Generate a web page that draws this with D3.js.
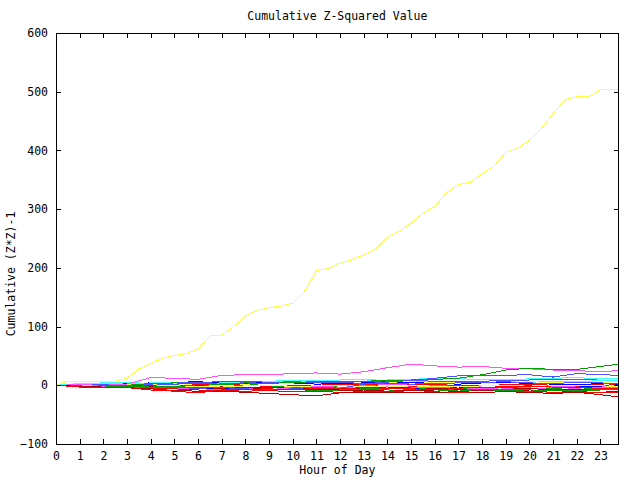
<!DOCTYPE html>
<html>
<head>
<meta charset="utf-8">
<script src="https://cdn.jsdelivr.net/npm/d3@7"></script>
<style>
  html, body { margin: 0; padding: 0; background: #fff; }
  svg { display: block; }
  text { font-family: "DejaVu Sans Mono", "Liberation Mono", monospace; font-size: 11.5px; fill: #000; }
</style>
</head>
<body>
<svg id="chart" width="640" height="480"></svg>
<script>
// ---------- DATA ----------
const titleText = "Cumulative Z-Squared Value";
const xLabel = "Hour of Day";
const yLabel = "Cumulative (Z*Z)-1";
const xTicks = [0,1,2,3,4,5,6,7,8,9,10,11,12,13,14,15,16,17,18,19,20,21,22,23];
const yTicks = [-100, 0, 100, 200, 300, 400, 500, 600];
const xMax = 23.77;

// hourly sample grid used by most series
const hours = [0,1,2,3,4,5,6,7,8,9,10,11,12,13,14,15,16,17,18,19,20,21,22,23,23.77];
// half-hourly grid for the large yellow series
const yellowHours = [0,0.5,1,1.5,2,2.5,3,3.5,4,4.5,5,5.5,6,6.5,7,7.5,8,8.5,9,9.5,10,10.5,11,11.5,12,12.5,13,13.5,14,14.5,15,15.5,16,16.5,17,17.5,18,18.5,19,19.5,20,20.5,21,21.5,22,22.5,23,23.5,23.77];
const yellowBig = [0,7,6,6,6,7,12,28,37,46,51,54,62,84,85,100,118,128,132,135,140,160,195,199,208,214,222,232,252,262,276,293,305,328,342,346,360,373,397,404,417,437,463,486,492,491,504,504,504];

// hourly series (cluster near zero)
const c01 = [0,2,1,0,-1,-3,-2,-4,-5,-3,-4,-6,-5,-3,-4,-2,-3,-5,-4,-2,-1,-3,-2,0,1];
const c02 = [0,-1,-2,-1,1,2,3,2,1,0,-2,-3,-1,0,-2,-4,-6,-5,-7,-8,-6,-5,-4,-6,-5];
const c03 = [0,-2,-3,-2,-1,-4,-5,-6,-4,-3,-6,-7,-8,-6,-5,-6,-7,-4,-3,-5,-6,-4,-3,-2,-4];
const c04 = [0,1,0,-2,-4,-5,-6,-7,-5,-4,-3,-2,-1,0,1,2,0,-1,-3,-5,-6,-4,-5,-3,-2];
const c05 = [0,3,4,5,3,2,4,5,6,5,7,8,9,10,8,7,6,5,4,6,5,7,6,8,9];
const c06 = [0,-1,-2,-3,-2,-3,-4,-5,-3,-4,-5,-6,-4,-5,-3,-4,-5,-6,-5,-4,-6,-7,-8,-6,-7];
const c07 = [0,0,-1,1,2,3,1,0,2,3,4,3,2,4,5,6,4,5,3,4,6,5,4,5,6];
const c08 = [0,1,2,1,0,2,4,3,5,4,6,7,5,6,7,8,7,6,7,8,9,10,9,11,12];
const c09 = [0,0,1,2,0,-1,1,2,0,-2,-1,0,2,1,3,2,1,0,-1,1,2,0,1,2,3];
const c10 = [0,-1,0,-1,-2,-1,0,1,0,-1,-3,-4,-5,-7,-8,-9,-10,-8,-9,-7,-8,-9,-10,-8,-7];
const c11 = [0,1,2,3,4,5,6,4,3,5,4,2,3,4,6,5,3,2,4,5,3,2,1,3,2];
const c12 = [0,-1,-2,-3,-5,-4,-3,-4,-6,-7,-5,-4,-3,-4,-2,-3,-4,-5,-6,-4,-3,-2,-3,-4,-3];
const c13 = [0,2,3,2,4,5,3,4,6,7,8,6,5,7,9,10,12,11,10,9,11,12,13,11,12];
const c14 = [0,-2,-1,0,-2,-3,-1,-2,-4,-6,-8,-7,-9,-8,-10,-9,-8,-7,-9,-10,-8,-9,-11,-12,-10];
const c15 = [0,-1,0,2,1,-1,-2,-3,-1,0,-2,-1,0,-2,-3,-1,-2,-3,-1,0,-2,-1,0,-1,-2];
const c16 = [0,1,1,0,2,4,5,6,7,5,6,4,5,3,4,2,3,4,5,6,4,3,5,4,3];
const c17 = [0,-2,-4,-3,-5,-6,-8,-9,-10,-9,-11,-10,-12,-11,-10,-12,-11,-13,-12,-11,-10,-12,-11,-13,-12];
const c18 = [0,-1,-3,-2,-3,-2,-4,-3,-6,-8,-7,-9,-8,-6,-5,-7,-8,-6,-7,-9,-10,-8,-9,-7,-8];
// distinctive outlying series
const magentaUp = [0,1,0,2,13,12,10,17,18,18,20,21,19,23,30,36,33,31,32,29,28,26,25,23,25];
const greenUp   = [0,-2,-1,0,3,4,3,2,4,3,5,6,6,7,8,9,10,12,18,26,29,27,27,32,36];
const slateUp   = [0,-2,-3,-4,-3,-4,-5,-4,-6,-8,-6,-3,-5,2,6,8,12,16,16,17,18,14,20,18,17];
const darkRedLow = [0,-2,-3,-4,-6,-9,-10,-10,-12,-14,-16,-18,-13,-12,-12,-13,-12,-11,-12,-11,-12,-14,-12,-16,-20];
const redLow    = [0,-3,-4,-4,-8,-10,-13,-8,-7,-6,-8,-5,-6,-4,-5,-6,-8,-5,-3,-4,-2,-3,-4,-5,-6];

const clusterSeries = [c01,c02,c03,c04,c05,c06,c07,c08,c09,c10,c11,c12,c13,c14,c15,c16,c17,c18];
const outlierSeries = [magentaUp, greenUp, slateUp, darkRedLow, redLow];

// ---------- STYLE ----------
const palette = ["#ff0000", "#00a000", "#0000ff", "#ff50ff", "#40ffff", "#b00000", "#ffff40", "#5050ff"];
const outlierColors = ["#ff50ff", "#00a000", "#5050ff", "#b00000", "#ff0000"];
const yellowColor = "#ffff40";

// ---------- LAYOUT ----------
const svg = d3.select("#chart");
const L = 56, R = 618.7, T = 33, B = 444;
const x = d3.scaleLinear().domain([0, xMax]).range([L, R]);
const y = d3.scaleLinear().domain([-100, 600]).range([B, T]);

const line = d3.line().x(d => x(d[0])).y(d => y(d[1]));
const g = svg.append("g");

function draw(xs, vals, color) {
  g.append("path")
    .datum(xs.map((h, i) => [h, vals[i]]))
    .attr("d", line)
    .attr("fill", "none")
    .attr("stroke", color)
    .attr("stroke-width", 1)
    .attr("shape-rendering", "crispEdges");
}

clusterSeries.forEach((s, i) => draw(hours, s, palette[i % palette.length]));
draw(yellowHours, yellowBig, yellowColor);
outlierSeries.forEach((s, i) => draw(hours, s, outlierColors[i]));

// axes with mirrored ticks (gnuplot style: ticks pointing inward)
const tick = 5;
const axB = d3.axisBottom(x).tickValues(xTicks).tickSize(-tick).tickPadding(8).tickFormat(d3.format("d"));
const axT = d3.axisTop(x).tickValues(xTicks).tickSize(-tick).tickFormat("");
const axL = d3.axisLeft(y).tickValues(yTicks).tickSize(-tick).tickPadding(8).tickFormat(d3.format("d"));
const axR = d3.axisRight(y).tickValues(yTicks).tickSize(-tick).tickFormat("");

function styleAxis(sel) {
  sel.select(".domain").remove();
  sel.selectAll("line").attr("stroke", "#000").attr("shape-rendering", "crispEdges");
  sel.selectAll("text").attr("font-family", null).attr("font-size", null).attr("fill", "#000");
}
svg.append("g").attr("transform", `translate(0,${B})`).call(axB).call(styleAxis);
svg.append("g").attr("transform", `translate(0,${T})`).call(axT).call(styleAxis);
svg.append("g").attr("transform", `translate(${L},0)`).call(axL).call(styleAxis);
svg.append("g").attr("transform", `translate(${R},0)`).call(axR).call(styleAxis);

// border box
svg.append("rect")
  .attr("x", L).attr("y", T).attr("width", R - L).attr("height", B - T)
  .attr("fill", "none").attr("stroke", "#000").attr("stroke-width", 1)
  .attr("shape-rendering", "crispEdges");

// titles
svg.append("text").attr("x", (L + R) / 2).attr("y", 20).attr("text-anchor", "middle").text(titleText);
svg.append("text").attr("x", (L + R) / 2).attr("y", 474).attr("text-anchor", "middle").text(xLabel);
svg.append("text")
  .attr("transform", `translate(15,274) rotate(-90)`)
  .attr("text-anchor", "middle").text(yLabel);
</script>
</body>
</html>
